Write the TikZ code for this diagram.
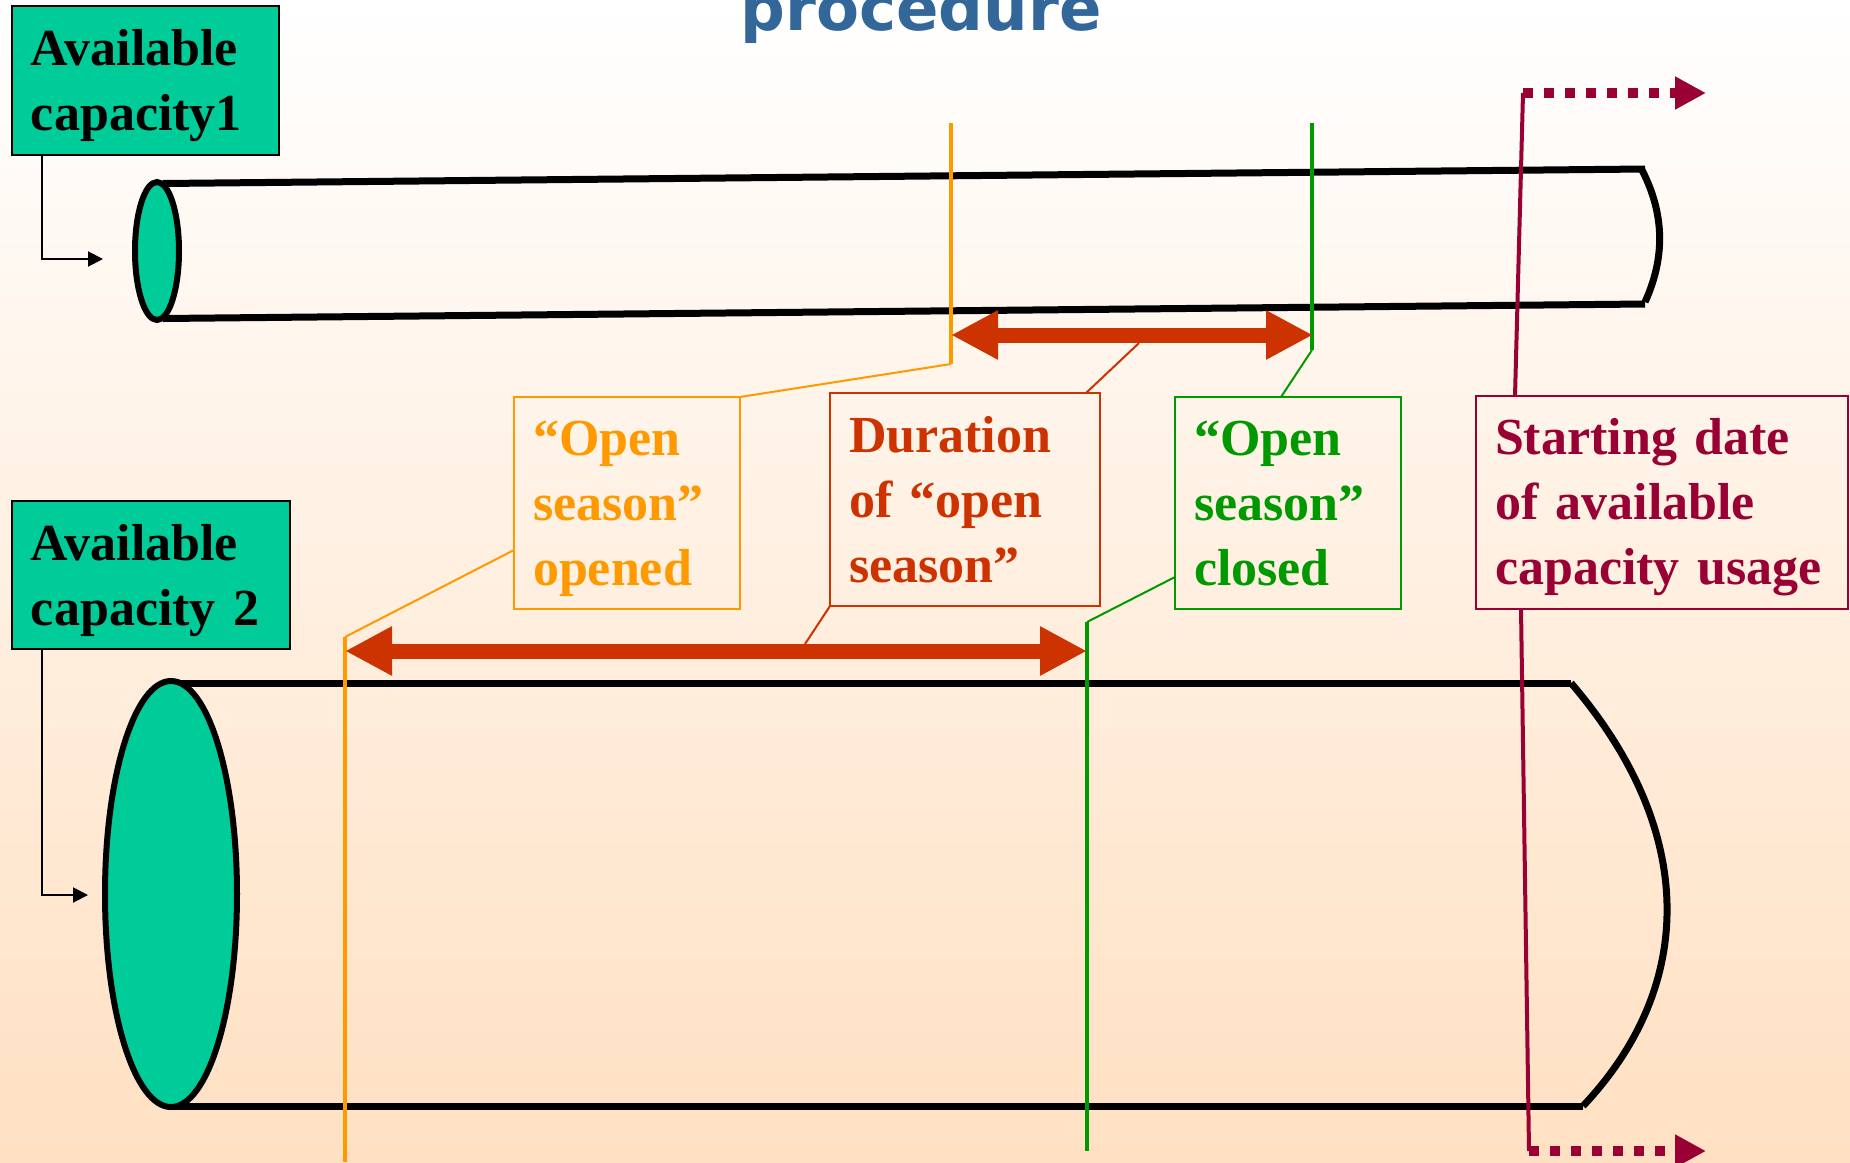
\documentclass[tikz,border=0pt]{standalone}
\usepackage{fontspec}
\setmainfont{Liberation Serif}
\newfontfamily\titlefont{DejaVu Sans}
\usetikzlibrary{arrows.meta}
\definecolor{capgreen}{HTML}{00CC99}
\definecolor{openorange}{HTML}{FF9900}
\definecolor{closegreen}{HTML}{009900}
\definecolor{durred}{HTML}{CC3300}
\definecolor{startred}{HTML}{990033}
\definecolor{titleblue}{HTML}{336699}
\definecolor{peach}{HTML}{FFE0C2}
\newcommand{\boxstrut}{\rule[-0.216em]{0pt}{1.107em}}

\begin{document}
\begin{tikzpicture}[x=0.5pt,y=-0.5pt,
  infobox/.style={draw, rectangle, anchor=north west, outer sep=0pt, line width=1.25pt,
    inner xsep=9.5pt, inner ysep=0pt, align=left,
    font=\fontsize{26pt}{32.5pt}\selectfont\bfseries,
    execute at begin node=\boxstrut, execute at end node=\boxstrut},
  capbox/.style={infobox, fill=capgreen, line width=1pt},
  tube/.style={line width=3.5pt},
  dateline/.style={line width=2pt},
  leadline/.style={line width=1pt},
  spanarrow/.style={durred, line width=7.5pt,
    {Triangle[length=23.5pt,width=23pt]}-{Triangle[length=23.5pt,width=23pt]}},
  laterarrow/.style={startred, line width=5pt, dash pattern=on 5pt off 5.5pt,
    -{Triangle[length=15.5pt,width=15.5pt]}},
  caparrow/.style={line width=1pt, -{Triangle[length=7.5pt,width=7.5pt]}}]

\useasboundingbox (0,0) rectangle (1850,1162);
\clip (0,0) rectangle (1850,1162);
\shade[top color=white, middle color=peach!42!white, bottom color=peach] (0,0) rectangle (1850,1162);

\node[font=\titlefont\bfseries\fontsize{31.3pt}{36pt}\selectfont, text=titleblue,
  anchor=base, inner sep=0pt] (ttl) at (921,30) {procedure};

% upper tube
\draw[tube] (163,183.5) -- (1645,169);
\draw[tube] (163,318.5) -- (1645,304);
\draw[tube] (1642,170) .. controls (1665,215) and (1665,258) .. (1645,302);
\draw[line width=3pt, fill=capgreen] (157,251) ellipse [x radius=22, y radius=69];

% lower tube
\draw[tube] (171,683) -- (1571,683);
\draw[tube] (171,1106) -- (1583,1106);
\draw[tube] (1571,683) .. controls (1697,830) and (1697,985) .. (1583,1106);
\draw[line width=3pt, fill=capgreen] (171,894) ellipse [x radius=66, y radius=213];

\node[capbox, minimum width=133.5pt, minimum height=74.5pt, text width=114.5pt] (cap1) at (12,6) {Available\\capacity1};
\node[capbox, minimum width=139pt, minimum height=74pt, text width=120pt] (cap2) at (12,501) {Available\\capacity 2};
\node[infobox, openorange, minimum width=113pt, minimum height=106pt, text width=94pt] (opened) at (514,397) {“Open\\season”\\opened};
\node[infobox, durred, minimum width=135pt, minimum height=106.5pt, text width=116pt] (dur) at (830,393) {Duration\\of “open\\season”};
\node[infobox, closegreen, minimum width=113pt, minimum height=106pt, text width=94pt] (closed) at (1175,397) {“Open\\season”\\closed};
\node[infobox, startred, minimum width=186pt, minimum height=106.5pt, text width=167pt] (start) at (1476,396) {Starting date\\of available\\capacity usage};

\coordinate (in1) at (103,259);
\coordinate (in2) at (88,895);
\draw[caparrow] ([xshift=15pt]cap1.south west) |- (in1);
\draw[caparrow] ([xshift=15pt]cap2.south west) |- (in2);

% open season opened
\coordinate (o1) at (951,123);
\coordinate (o2) at (951,364);
\coordinate (o3) at (345,637);
\coordinate (o4) at (345,1162);
\draw[dateline, openorange] (o1) -- (o2);
\draw[leadline, openorange] (o2) -- (opened.north east);
\draw[leadline, openorange] ([yshift=-23.5pt]opened.west) -- (o3);
\draw[dateline, openorange] (o3) -- (o4);

% open season closed
\coordinate (g1) at (1312,123);
\coordinate (g2) at (1312,350);
\coordinate (g3) at (1087,622);
\coordinate (g4) at (1087,1151);
\draw[dateline, closegreen] (g1) -- (g2);
\draw[leadline, closegreen] (g2) -- ([xshift=-3.5pt]closed.north);
\draw[leadline, closegreen] ([yshift=-37pt]closed.west) -- (g3);
\draw[dateline, closegreen] (g3) -- (g4);

% duration
\coordinate (d1) at (951,335);
\coordinate (d2) at (1313,335);
\coordinate (d3) at (345,651);
\coordinate (d4) at (1087,651);
\coordinate (d5) at (1139,343);
\coordinate (d6) at (805,644);
\draw[spanarrow] (d1) -- (d2);
\draw[spanarrow] (d3) -- (d4);
\draw[leadline, durred] (d5) -- ([xshift=-7pt]dur.north east);
\draw[leadline, durred] (d6) -- (dur.south west);

% starting date
\coordinate (s1) at (1523,93);
\coordinate (s2) at (1706,93);
\coordinate (s3) at (1529,1151);
\coordinate (s4) at (1706,1151);
\draw[dateline, startred] ([xshift=19.5pt]start.north west) -- (s1);
\draw[laterarrow] (s1) -- (s2);
\draw[dateline, startred] ([xshift=22.5pt]start.south west) -- (s3);
\draw[laterarrow] (s3) -- (s4);

\end{tikzpicture}
\end{document}
